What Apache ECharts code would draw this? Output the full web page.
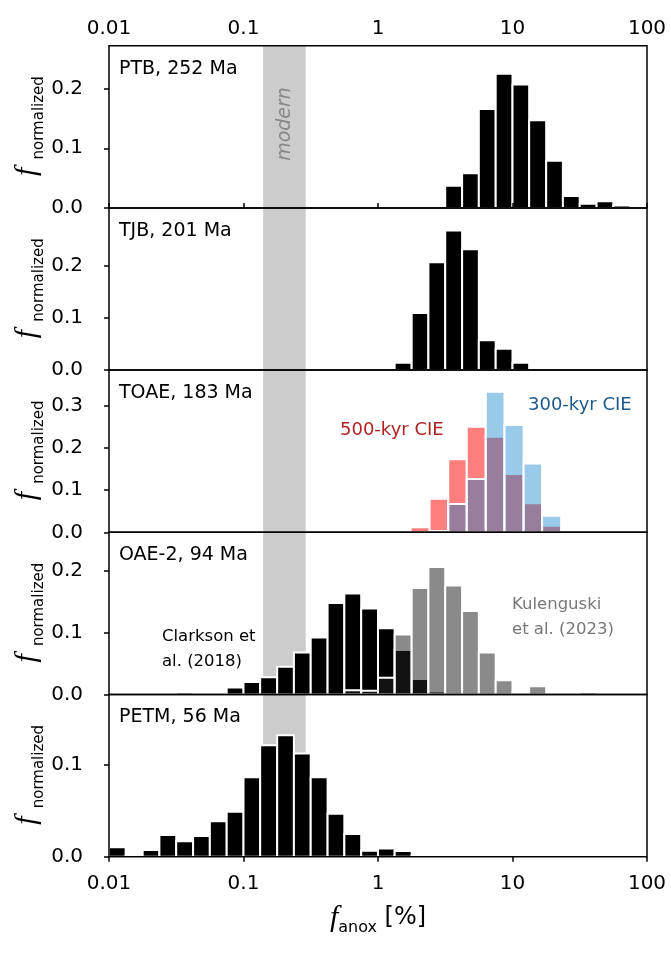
<!DOCTYPE html>
<html>
<head>
<meta charset="utf-8">
<script src="https://cdn.jsdelivr.net/npm/echarts@6/dist/echarts.min.js"></script>
<style>html,body{margin:0;background:#fff}#main{width:671px;height:953px}</style>
</head>
<body>
<div id="main"></div>
<script>
// bin edges in % anoxia (8 bins per decade), used by PTB, TJB, OAE-2 and PETM
var binEdges = [0.01, 0.0133, 0.0178, 0.0237, 0.0316, 0.0422, 0.0562, 0.075,
  0.1, 0.133, 0.178, 0.237, 0.316, 0.422, 0.562, 0.75,
  1, 1.33, 1.78, 2.37, 3.16, 4.22, 5.62, 7.5,
  10, 13.3, 17.8, 23.7, 31.6, 42.2, 56.2, 75, 100];

var ptbVals = [0, 0, 0, 0, 0, 0, 0, 0, 0, 0, 0, 0, 0, 0, 0, 0,
  0, 0, 0, 0.002, 0.037, 0.058, 0.166, 0.225, 0.207, 0.147, 0.079, 0.020, 0.007, 0.011, 0.004, 0];
var tjbVals = [0, 0, 0, 0, 0, 0, 0, 0, 0, 0, 0, 0, 0, 0, 0, 0,
  0, 0.014, 0.109, 0.206, 0.267, 0.231, 0.057, 0.041, 0.014, 0, 0, 0, 0, 0, 0, 0];
var clarksonVals = [0, 0, 0, 0.0016, 0.0038, 0, 0, 0.0114, 0.020, 0.028, 0.045, 0.068, 0.092, 0.148, 0.163, 0.139,
  0.107, 0.072, 0.025, 0.005, 0, 0.002, 0, 0, 0, 0, 0, 0, 0, 0, 0, 0];
var kulenguskiVals = [0, 0, 0, 0, 0, 0, 0, 0, 0, 0, 0, 0, 0, 0, 0.007, 0.006,
  0.027, 0.097, 0.172, 0.206, 0.176, 0.135, 0.068, 0.023, 0.003, 0.0135, 0, 0, 0.004, 0, 0, 0];
var petmVals = [0.0103, 0.0011, 0.0073, 0.0238, 0.0168, 0.0227, 0.0388, 0.049, 0.0868, 0.1216, 0.1326, 0.1125, 0.0868, 0.047, 0.0249, 0.0066,
  0.009, 0.0062, 0.001, 0.0018, 0, 0, 0, 0, 0, 0, 0, 0, 0, 0, 0, 0];

// TOAE has its own bins
var toaeEdges = [1.75, 2.42, 3.33, 4.57, 6.33, 8.72, 12.1, 16.6, 23.0, 31.8];
var cie500Vals = [0.0118, 0.0795, 0.173, 0.250, 0.226, 0.138, 0.0685, 0.0157, 0.003];
var cie300Vals = [0, 0.003, 0.067, 0.126, 0.333, 0.254, 0.163, 0.039, 0];

var modernBand = [0.14, 0.29];
var panelNames = ['PTB, 252 Ma', 'TJB, 201 Ma', 'TOAE, 183 Ma', 'OAE-2, 94 Ma', 'PETM, 56 Ma'];
var yMax = [0.272, 0.31, 0.384, 0.262, 0.177];
var yTicks = [[0, 0.1, 0.2], [0, 0.1, 0.2], [0, 0.1, 0.2, 0.3], [0, 0.1, 0.2], [0, 0.1]];

var FONT = 'DejaVu Sans';
var tops = [45.7, 207.9, 370.1, 532.3, 694.5];
var panelH = 162.2;

function histData(edges, vals) {
	var out = [];
	for (var i = 0; i < vals.length; i++) {
		if (vals[i] > 0) out.push([edges[i], edges[i + 1], vals[i]]);
	}
	return out;
}

function renderBar(params, api) {
	var p0 = api.coord([api.value(0), api.value(2)]);
	var p1 = api.coord([api.value(1), 0]);
	return {
		type: 'rect',
		shape: {x: p0[0], y: p0[1], width: p1[0] - p0[0], height: p1[1] - p0[1]},
		style: api.style({stroke: '#fff', lineWidth: 2})
	};
}

function renderBand(params, api) {
	var a = api.coord([api.value(0), 0]);
	var b = api.coord([api.value(1), 0]);
	var cs = params.coordSys;
	return {
		type: 'rect',
		shape: {x: a[0], y: cs.y, width: b[0] - a[0], height: cs.height},
		style: {fill: '#cccccc'}
	};
}

var grids = [], xAxes = [], yAxes = [], series = [], graphics = [];

for (var i = 0; i < 5; i++) {
	grids.push({
		left: 109, width: 538, top: tops[i], height: panelH,
		show: true, borderColor: '#000', borderWidth: 1.5, backgroundColor: 'transparent',
		z: 10, containLabel: false, outerBoundsMode: 'none'
	});
	var showX = (i === 0 || i === 4);
	xAxes.push({
		type: 'log', logBase: 10, min: 0.01, max: 100, gridIndex: i,
		position: i === 0 ? 'top' : 'bottom',
		show: showX, z: 10,
		axisLine: {show: false},
		axisTick: {show: showX, length: 5, lineStyle: {color: '#000', width: 1.5}},
		axisLabel: {
			show: showX, color: '#000', fontFamily: FONT, fontSize: 20, margin: i === 0 ? 7 : 17,
			formatter: function(v) { return String(+(+v).toPrecision(2)); }
		},
		splitLine: {show: false},
		name: i === 4 ? '{f|f}{s|anox}{t| [%]}' : '',
		nameLocation: 'middle', nameGap: 43,
		nameTextStyle: {
			rich: {
				f: {fontFamily: 'Liberation Serif', fontStyle: 'italic', fontSize: 30, lineHeight: 36, verticalAlign: 'middle', color: '#000'},
				s: {fontFamily: FONT, fontSize: 16, lineHeight: 18, verticalAlign: 'bottom', color: '#000'},
				t: {fontFamily: FONT, fontSize: 24, lineHeight: 36, verticalAlign: 'middle', color: '#000'}
			}
		}
	});
	yAxes.push({
		type: 'value', min: 0, max: yMax[i], gridIndex: i, z: 10,
		axisLine: {show: false},
		axisTick: {show: true, length: 5, customValues: yTicks[i], lineStyle: {color: '#000', width: 1.5}},
		axisLabel: {
			customValues: yTicks[i], color: '#000', fontFamily: FONT, fontSize: 20, margin: 26,
			formatter: function(v) { return (+v).toFixed(1); }
		},
		splitLine: {show: false}
	});
	series.push({
		type: 'custom', xAxisIndex: i, yAxisIndex: i, z: 1, silent: true,
		renderItem: renderBand, data: [modernBand]
	});
	var mid = tops[i] + panelH / 2;
	graphics.push(
		{type: 'text', x: 119, y: tops[i] + 23, z: 20,
			style: {text: panelNames[i], font: '19px ' + FONT, fill: '#000', textVerticalAlign: 'middle'}},
		// y axis title: italic f with subscript, rotated
		{type: 'text', x: 27, y: mid + 45, rotation: Math.PI / 2, z: 20,
			style: {text: 'f', font: 'italic 30px "Liberation Serif"', fill: '#000', textAlign: 'center', textVerticalAlign: 'middle'}},
		{type: 'text', x: 39, y: mid - 9, rotation: Math.PI / 2, z: 20,
			style: {text: 'normalized', font: '15px ' + FONT, fill: '#000', textAlign: 'center', textVerticalAlign: 'middle'}}
	);
}

function histSeries(idx, data, color) {
	return {
		type: 'custom', xAxisIndex: idx, yAxisIndex: idx, z: 2, clip: true,
		itemStyle: {color: color},
		renderItem: renderBar, data: data
	};
}

series.push(histSeries(0, histData(binEdges, ptbVals), '#000'));
series.push(histSeries(1, histData(binEdges, tjbVals), '#000'));
series.push(histSeries(2, histData(toaeEdges, cie500Vals), 'rgba(255,0,0,0.5)'));
series.push(histSeries(2, histData(toaeEdges, cie300Vals), 'rgba(0,123,202,0.4)'));
series.push(histSeries(3, histData(binEdges, clarksonVals), '#000'));
series.push(histSeries(3, histData(binEdges, kulenguskiVals), 'rgba(34,34,34,0.53)'));
series.push(histSeries(4, histData(binEdges, petmVals), '#000'));

graphics.push(
	{type: 'text', x: 285, y: 124, rotation: Math.PI / 2, z: 20,
		style: {text: 'modern', font: 'italic 19px ' + FONT, fill: '#888', textAlign: 'center', textVerticalAlign: 'middle'}},
	{type: 'text', x: 340, y: 430, z: 20,
		style: {text: '500-kyr CIE', font: '18px ' + FONT, fill: '#b22222', textVerticalAlign: 'middle'}},
	{type: 'text', x: 528, y: 405, z: 20,
		style: {text: '300-kyr CIE', font: '18px ' + FONT, fill: '#1f5a8c', textVerticalAlign: 'middle'}},
	{type: 'text', x: 162, y: 624.5, z: 20,
		style: {text: 'Clarkson et\nal. (2018)', font: '16.5px ' + FONT, lineHeight: 25, fill: '#000', textVerticalAlign: 'top'}},
	{type: 'text', x: 512, y: 592.5, z: 20,
		style: {text: 'Kulenguski\net al. (2023)', font: '16.5px ' + FONT, lineHeight: 25, fill: '#777', textVerticalAlign: 'top'}}
);

var chart = echarts.init(document.getElementById('main'), null, {renderer: 'canvas'});
chart.setOption({
	animation: false,
	backgroundColor: '#fff',
	grid: grids,
	xAxis: xAxes,
	yAxis: yAxes,
	series: series,
	graphic: graphics
});
</script>
</body>
</html>
